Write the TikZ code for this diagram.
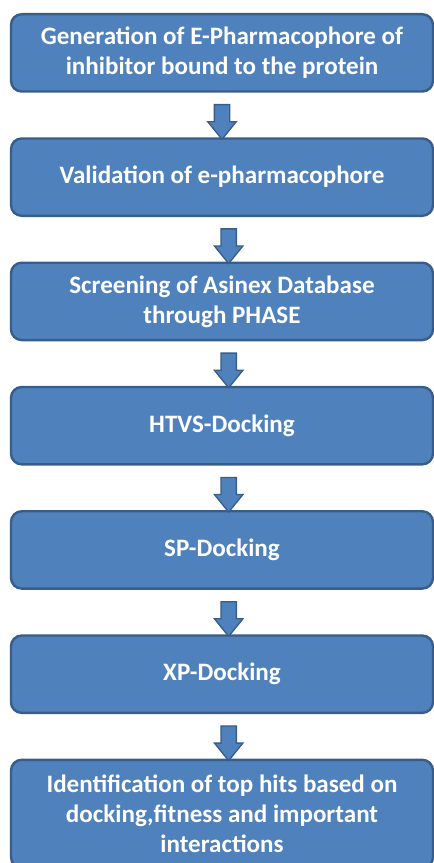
\documentclass[tikz,border=0pt]{standalone}
\usepackage{fontspec}
\setmainfont{Carlito}
\usetikzlibrary{positioning,shapes.arrows}
\definecolor{stepblue}{HTML}{4F81BD}
\definecolor{stepedge}{HTML}{385D8A}

\begin{document}
\begin{tikzpicture}[
                node distance=33.4pt,
                box/.style={draw=stepedge, line width=1.8pt, fill=stepblue, rounded corners=8pt,
                    minimum width=316.5pt, minimum height=58pt, align=center, text=white,
                    font=\fontsize{18.8}{22.5}\selectfont\bfseries},
                downarrow/.style={single arrow, draw=stepedge, line width=1pt, fill=stepblue,
                    shape border rotate=270, minimum height=26pt, minimum width=20.25pt,
                    single arrow head extend=4.9pt, single arrow tip angle=78, inner sep=5.25pt, pos=0.55}
            ]
                \useasboundingbox (0,0) rectangle (325.5pt,-647.25pt);

                % Pharmacophore steps
                \node[box, anchor=north] (gen) at (166.5pt,-9.75pt) {Generation of E-Pharmacophore of\\inhibitor bound to the protein};
                \node[box, below=of gen] (valid) {Validation of e-pharmacophore};
                \node[box, below=of valid] (screen) {Screening of Asinex Database\\through PHASE};

                % Docking steps
                \node[box, below=of screen] (htvs) {HTVS-Docking};
                \node[box, below=of htvs] (sp) {SP-Docking};
                \node[box, below=of sp] (xp) {XP-Docking};
                \node[box, below=of xp, minimum height=81pt] (hits) {Identification of top hits based on\\docking,fitness and important\\interactions};

                % Block arrows
                \path (gen) -- node[downarrow] {} (valid);
                \path (valid) -- node[downarrow, xshift=5pt] {} (screen);
                \path (screen) -- node[downarrow, xshift=5pt] {} (htvs);
                \path (htvs) -- node[downarrow, xshift=5pt] {} (sp);
                \path (sp) -- node[downarrow, xshift=5pt] {} (xp);
                \path (xp) -- node[downarrow, xshift=5pt] {} (hits);
            \end{tikzpicture}
\end{document}
